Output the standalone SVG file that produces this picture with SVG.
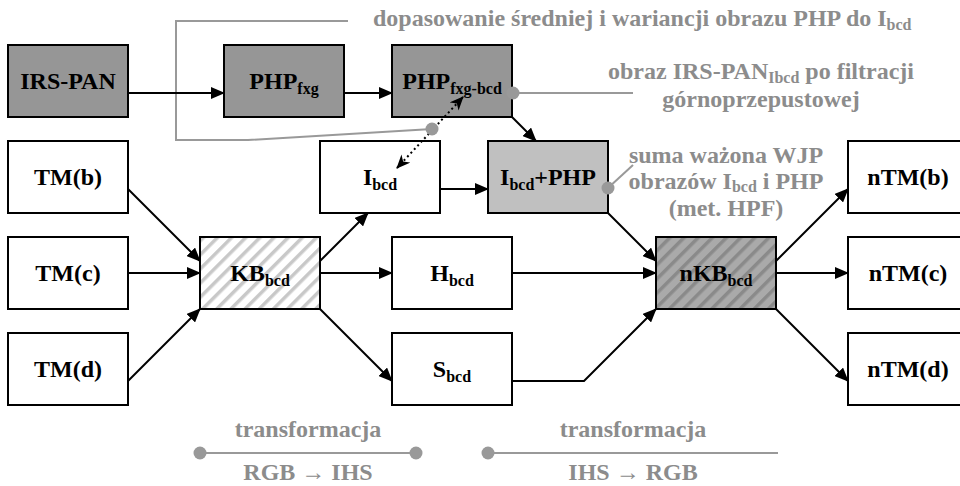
<svg xmlns="http://www.w3.org/2000/svg" width="960" height="486" viewBox="0 0 960 486">
<defs>
<style>
.box{stroke:#000;stroke-width:2}
.w{fill:#fff}
.d{fill:#969696}
.l{fill:#c0c0c0}
text{font-family:'Liberation Serif','Times New Roman',Tinos,'DejaVu Serif',serif;font-weight:bold}
.t{font-size:24px;fill:#000;text-anchor:middle}
.g{font-size:24px;fill:#8c8c8c;text-anchor:middle}
.s{font-size:16px}
.c{stroke:#000;stroke-width:2;fill:none;marker-end:url(#ah)}
.gl{stroke:#999;stroke-width:2;fill:none}
.dot{fill:#999}
</style>
<marker id="ah" viewBox="0 0 14 12" refX="13" refY="6" markerWidth="14" markerHeight="12" markerUnits="userSpaceOnUse" orient="auto">
<path d="M0,0 L14,6 L0,12 Z" fill="#000"/>
</marker>
<marker id="ob" viewBox="0 0 14 12" refX="13" refY="6" markerWidth="14" markerHeight="12" markerUnits="userSpaceOnUse" orient="auto-start-reverse">
<path d="M0,0 L14,6 L0,12 L4,6 Z" fill="#000"/>
</marker>
<pattern id="hatchL" patternUnits="userSpaceOnUse" width="10" height="10" patternTransform="rotate(45)">
<rect width="10" height="10" fill="#fff"/>
<rect width="3.5" height="10" fill="#c8c8c8"/>
</pattern>
<pattern id="hatchD" patternUnits="userSpaceOnUse" width="10" height="10" patternTransform="rotate(45)">
<rect width="10" height="10" fill="#aaaaaa"/>
<rect width="3.5" height="10" fill="#8a8a8a"/>
</pattern>
</defs>
<rect width="960" height="486" fill="#fff"/>

<g id="annotations">
<polyline class="gl" points="348,21 176,21 176,140 248,140 432,129"/>
<line class="gl" x1="513" y1="93" x2="633" y2="93"/>
<line class="gl" x1="608" y1="188" x2="633" y2="165"/>
<text class="g" x="373" y="26" style="text-anchor:start">dopasowanie średniej i wariancji obrazu PHP do I<tspan class="s" dy="4">bcd</tspan></text>
<text class="g" x="761" y="79">obraz IRS-PAN<tspan class="s" dy="4">Ibcd</tspan><tspan dy="-4"> po filtracji</tspan></text>
<text class="g" x="761" y="107">górnoprzepustowej</text>
<text class="g" x="726" y="163">suma ważona WJP</text>
<text class="g" x="726" y="189">obrazów I<tspan class="s" dy="3">bcd</tspan><tspan dy="-3"> i PHP</tspan></text>
<text class="g" x="726" y="216">(met. HPF)</text>
</g>

<g id="n-irspan"><rect class="box d" x="8" y="45" width="120" height="72"/><text class="t" x="68" y="89">IRS-PAN</text></g>
<g id="n-phpfxg"><rect class="box d" x="224" y="45" width="120" height="72"/><text class="t" x="284" y="89">PHP<tspan class="s" dy="5">fxg</tspan></text></g>
<g id="n-phpfxgbcd"><rect class="box d" x="392" y="45" width="120" height="72"/><text class="t" x="452" y="89">PHP<tspan class="s" dy="5">fxg-bcd</tspan></text></g>
<g id="n-tmb"><rect class="box w" x="8" y="141" width="120" height="72"/><text class="t" x="68" y="185">TM(b)</text></g>
<g id="n-tmc"><rect class="box w" x="8" y="237" width="120" height="72"/><text class="t" x="68" y="281">TM(c)</text></g>
<g id="n-tmd"><rect class="box w" x="8" y="333" width="120" height="72"/><text class="t" x="68" y="377">TM(d)</text></g>
<g id="n-kb"><rect class="box" fill="url(#hatchL)" x="200" y="237" width="120" height="72"/><text class="t" x="260" y="281">KB<tspan class="s" dy="5">bcd</tspan></text></g>
<g id="n-ibcd"><rect class="box w" x="320" y="141" width="120" height="72"/><text class="t" x="380" y="185">I<tspan class="s" dy="5">bcd</tspan></text></g>
<g id="n-hbcd"><rect class="box w" x="392" y="237" width="120" height="72"/><text class="t" x="452" y="281">H<tspan class="s" dy="5">bcd</tspan></text></g>
<g id="n-sbcd"><rect class="box w" x="392" y="333" width="120" height="72"/><text class="t" x="452" y="377">S<tspan class="s" dy="5">bcd</tspan></text></g>
<g id="n-ibcdphp"><rect class="box l" x="488" y="141" width="120" height="72"/><text class="t" x="548" y="185">I<tspan class="s" dy="5">bcd</tspan><tspan dy="-5">+PHP</tspan></text></g>
<g id="n-nkb"><rect class="box" fill="url(#hatchD)" x="656" y="237" width="120" height="72"/><text class="t" x="716" y="281">nKB<tspan class="s" dy="5">bcd</tspan></text></g>
<g id="n-ntmb"><rect class="box w" x="848" y="141" width="120" height="72"/><text class="t" x="908" y="185">nTM(b)</text></g>
<g id="n-ntmc"><rect class="box w" x="848" y="237" width="120" height="72"/><text class="t" x="908" y="281">nTM(c)</text></g>
<g id="n-ntmd"><rect class="box w" x="848" y="333" width="120" height="72"/><text class="t" x="908" y="377">nTM(d)</text></g>

<g id="connectors">
<line class="c" x1="128" y1="93" x2="224" y2="93"/>
<line class="c" x1="344" y1="93" x2="392" y2="93"/>
<line class="c" x1="512" y1="117" x2="536" y2="141"/>
<line class="c" x1="128" y1="189" x2="200" y2="261"/>
<line class="c" x1="128" y1="273" x2="200" y2="273"/>
<line class="c" x1="128" y1="381" x2="200" y2="309"/>
<line class="c" x1="320" y1="261" x2="368" y2="213"/>
<line class="c" x1="320" y1="273" x2="392" y2="273"/>
<line class="c" x1="320" y1="309" x2="392" y2="381"/>
<line class="c" x1="440" y1="189" x2="488" y2="189"/>
<line class="c" x1="608" y1="213" x2="656" y2="261"/>
<line class="c" x1="512" y1="273" x2="656" y2="273"/>
<polyline class="c" points="512,381 584,381 656,309"/>
<line class="c" x1="776" y1="261" x2="848" y2="189"/>
<line class="c" x1="776" y1="273" x2="848" y2="273"/>
<line class="c" x1="776" y1="309" x2="848" y2="381"/>
<line x1="397" y1="168" x2="463" y2="97" stroke="#000" stroke-width="2" stroke-dasharray="2,3" marker-start="url(#ob)" marker-end="url(#ob)"/>
</g>

<g id="dots">
<circle class="dot" cx="432" cy="129" r="6.5"/>
<circle class="dot" cx="513" cy="93" r="6.5"/>
<circle class="dot" cx="608" cy="188" r="6.5"/>
</g>

<g id="legend">
<line class="gl" x1="200" y1="453" x2="416" y2="453"/>
<circle class="dot" cx="200" cy="453" r="6.5"/>
<circle class="dot" cx="416" cy="453" r="6.5"/>
<text class="g" x="308" y="437">transformacja</text>
<text class="g" x="308" y="480">RGB → IHS</text>
<line class="gl" x1="488" y1="453" x2="778" y2="453"/>
<circle class="dot" cx="488" cy="453" r="6.5"/>
<text class="g" x="633" y="437">transformacja</text>
<text class="g" x="633" y="480">IHS → RGB</text>
</g>
</svg>
